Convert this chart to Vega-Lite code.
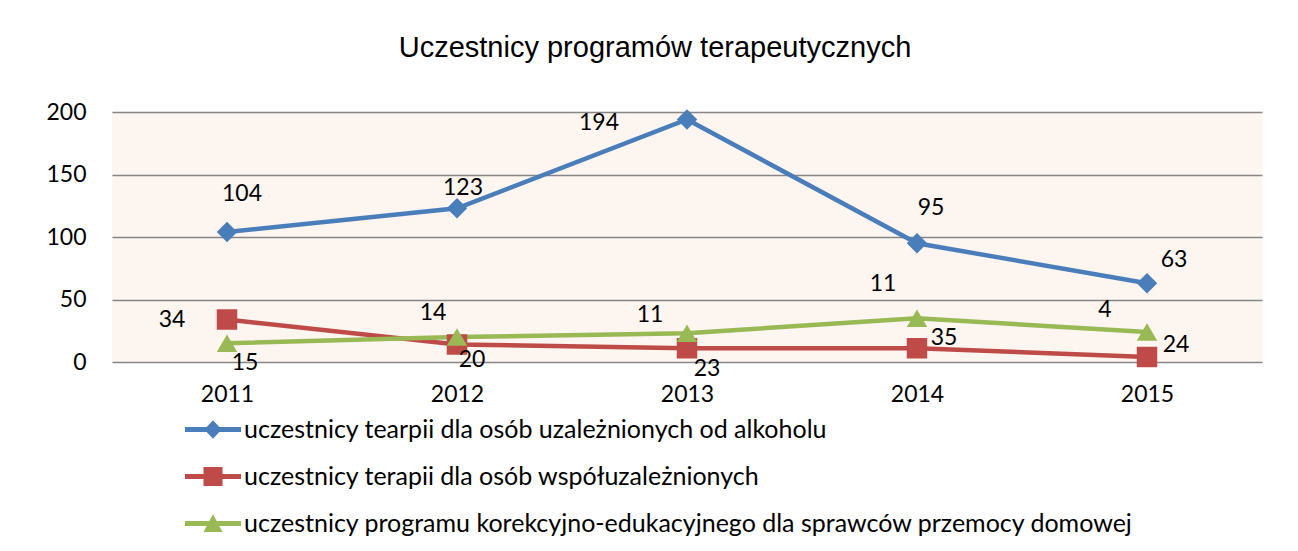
{
  "$schema": "https://vega.github.io/schema/vega-lite/v6.json",
  "width": 1150,
  "height": 250,
  "autosize": {"type": "none"},
  "padding": {"left": 112, "top": 112, "right": 36, "bottom": 189},
  "background": "white",
  "title": {
    "text": "Uczestnicy programów terapeutycznych",
    "font": "Liberation Sans",
    "fontSize": 29,
    "fontWeight": "normal",
    "color": "black",
    "anchor": "middle",
    "dx": -32,
    "offset": 38
  },
  "config": {
    "view": {"fill": "#FDF5F0", "stroke": null},
    "axis": {"labelFont": "Lato", "labelFontSize": 23, "labelColor": "black", "domain": false, "ticks": false, "title": null},
    "legend": {"labelFont": "Lato", "labelFontSize": 25, "labelColor": "black"}
  },
  "data": {
    "values": [
      {"year": "2011", "key": "a", "series": "uczestnicy tearpii dla osób uzależnionych od alkoholu", "value": 104},
      {"year": "2012", "key": "a", "series": "uczestnicy tearpii dla osób uzależnionych od alkoholu", "value": 123},
      {"year": "2013", "key": "a", "series": "uczestnicy tearpii dla osób uzależnionych od alkoholu", "value": 194},
      {"year": "2014", "key": "a", "series": "uczestnicy tearpii dla osób uzależnionych od alkoholu", "value": 95},
      {"year": "2015", "key": "a", "series": "uczestnicy tearpii dla osób uzależnionych od alkoholu", "value": 63},
      {"year": "2011", "key": "b", "series": "uczestnicy terapii dla osób współuzależnionych", "value": 34},
      {"year": "2012", "key": "b", "series": "uczestnicy terapii dla osób współuzależnionych", "value": 14},
      {"year": "2013", "key": "b", "series": "uczestnicy terapii dla osób współuzależnionych", "value": 11},
      {"year": "2014", "key": "b", "series": "uczestnicy terapii dla osób współuzależnionych", "value": 11},
      {"year": "2015", "key": "b", "series": "uczestnicy terapii dla osób współuzależnionych", "value": 4},
      {"year": "2011", "key": "c", "series": "uczestnicy programu korekcyjno-edukacyjnego dla sprawców przemocy domowej", "value": 15},
      {"year": "2012", "key": "c", "series": "uczestnicy programu korekcyjno-edukacyjnego dla sprawców przemocy domowej", "value": 20},
      {"year": "2013", "key": "c", "series": "uczestnicy programu korekcyjno-edukacyjnego dla sprawców przemocy domowej", "value": 23},
      {"year": "2014", "key": "c", "series": "uczestnicy programu korekcyjno-edukacyjnego dla sprawców przemocy domowej", "value": 35},
      {"year": "2015", "key": "c", "series": "uczestnicy programu korekcyjno-edukacyjnego dla sprawców przemocy domowej", "value": 24}
    ]
  },
  "encoding": {
    "x": {"field": "year", "type": "ordinal", "scale": {"type": "point", "padding": 0.5}, "axis": {"labelAngle": 0, "labelPadding": 21, "grid": false}},
    "y": {"field": "value", "type": "quantitative", "scale": {"domain": [0, 200], "nice": false}, "axis": {"values": [0, 50, 100, 150, 200], "grid": true, "gridColor": "#868686", "gridWidth": 1.5, "labelPadding": 26}}
  },
  "layer": [
    {
      "mark": {"type": "line", "strokeWidth": 4.5},
      "encoding": {
        "color": {"field": "series", "type": "nominal",
          "scale": {"domain": ["uczestnicy tearpii dla osób uzależnionych od alkoholu", "uczestnicy terapii dla osób współuzależnionych", "uczestnicy programu korekcyjno-edukacyjnego dla sprawców przemocy domowej"], "range": ["#4A7EBB", "#BE4B48", "#98B954"]},
          "legend": {
            "title": null, "orient": "none", "legendX": 73, "legendY": 294, "padding": 0,
            "symbolSize": 3136, "labelOffset": 3, "clipHeight": 47, "rowPadding": 0, "labelLimit": 1000,
            "encode": {"symbols": {"update": {"shape": {"signal": "datum.value === 'uczestnicy tearpii dla osób uzależnionych od alkoholu' ? 'M-1,-0.09H1V0.09H-1Z M0,-0.33L0.31,0L0,0.33L-0.31,0Z' : datum.value === 'uczestnicy terapii dla osób współuzależnionych' ? 'M-1,-0.09H1V0.09H-1Z M-0.34,-0.34H0.34V0.34H-0.34Z' : 'M-1,-0.09H1V0.09H-1Z M0,-0.33L0.34,0.3L-0.34,0.3Z'"}, "fill": {"signal": "scale('color', datum.value)"}, "strokeWidth": {"value": 0}, "opacity": {"value": 1}}}}
          }}
      }
    },
    {
      "mark": {"type": "point", "filled": true, "opacity": 1, "size": 420, "strokeWidth": 0},
      "encoding": {
        "color": {"field": "series", "type": "nominal",
          "scale": {"domain": ["uczestnicy tearpii dla osób uzależnionych od alkoholu", "uczestnicy terapii dla osób współuzależnionych", "uczestnicy programu korekcyjno-edukacyjnego dla sprawców przemocy domowej"], "range": ["#4A7EBB", "#BE4B48", "#98B954"]},
          "legend": {
            "title": null, "orient": "none", "legendX": 73, "legendY": 294, "padding": 0,
            "symbolSize": 3136, "labelOffset": 3, "clipHeight": 47, "rowPadding": 0, "labelLimit": 1000,
            "encode": {"symbols": {"update": {"shape": {"signal": "datum.value === 'uczestnicy tearpii dla osób uzależnionych od alkoholu' ? 'M-1,-0.09H1V0.09H-1Z M0,-0.33L0.31,0L0,0.33L-0.31,0Z' : datum.value === 'uczestnicy terapii dla osób współuzależnionych' ? 'M-1,-0.09H1V0.09H-1Z M-0.34,-0.34H0.34V0.34H-0.34Z' : 'M-1,-0.09H1V0.09H-1Z M0,-0.33L0.34,0.3L-0.34,0.3Z'"}, "fill": {"signal": "scale('color', datum.value)"}, "strokeWidth": {"value": 0}, "opacity": {"value": 1}}}}
          }},
        "shape": {"field": "key", "type": "nominal", "legend": null,
          "scale": {"domain": ["a", "b", "c"], "range": ["diamond", "square", "triangle-up"]}}
      }
    },
    {"transform": [{"filter": "datum.key=='a' && datum.year=='2011'"}], "mark": {"type": "text", "dx": 15, "dy": -38, "font": "Lato", "fontSize": 23}, "encoding": {"text": {"field": "value"}}},
    {"transform": [{"filter": "datum.key=='a' && datum.year=='2012'"}], "mark": {"type": "text", "dx": 6, "dy": -20, "font": "Lato", "fontSize": 23}, "encoding": {"text": {"field": "value"}}},
    {"transform": [{"filter": "datum.key=='a' && datum.year=='2013'"}], "mark": {"type": "text", "dx": -88, "dy": 3, "font": "Lato", "fontSize": 23}, "encoding": {"text": {"field": "value"}}},
    {"transform": [{"filter": "datum.key=='a' && datum.year=='2014'"}], "mark": {"type": "text", "dx": 14, "dy": -35, "font": "Lato", "fontSize": 23}, "encoding": {"text": {"field": "value"}}},
    {"transform": [{"filter": "datum.key=='a' && datum.year=='2015'"}], "mark": {"type": "text", "dx": 27, "dy": -23, "font": "Lato", "fontSize": 23}, "encoding": {"text": {"field": "value"}}},
    {"transform": [{"filter": "datum.key=='b' && datum.year=='2011'"}], "mark": {"type": "text", "dx": -55, "dy": 0, "font": "Lato", "fontSize": 23}, "encoding": {"text": {"field": "value"}}},
    {"transform": [{"filter": "datum.key=='b' && datum.year=='2012'"}], "mark": {"type": "text", "dx": -24, "dy": -32, "font": "Lato", "fontSize": 23}, "encoding": {"text": {"field": "value"}}},
    {"transform": [{"filter": "datum.key=='b' && datum.year=='2013'"}], "mark": {"type": "text", "dx": -37, "dy": -33, "font": "Lato", "fontSize": 23}, "encoding": {"text": {"field": "value"}}},
    {"transform": [{"filter": "datum.key=='b' && datum.year=='2014'"}], "mark": {"type": "text", "dx": -34, "dy": -64, "font": "Lato", "fontSize": 23}, "encoding": {"text": {"field": "value"}}},
    {"transform": [{"filter": "datum.key=='b' && datum.year=='2015'"}], "mark": {"type": "text", "dx": -42, "dy": -47, "font": "Lato", "fontSize": 23}, "encoding": {"text": {"field": "value"}}},
    {"transform": [{"filter": "datum.key=='c' && datum.year=='2011'"}], "mark": {"type": "text", "dx": 18, "dy": 20, "font": "Lato", "fontSize": 23}, "encoding": {"text": {"field": "value"}}},
    {"transform": [{"filter": "datum.key=='c' && datum.year=='2012'"}], "mark": {"type": "text", "dx": 15, "dy": 23, "font": "Lato", "fontSize": 23}, "encoding": {"text": {"field": "value"}}},
    {"transform": [{"filter": "datum.key=='c' && datum.year=='2013'"}], "mark": {"type": "text", "dx": 20, "dy": 36, "font": "Lato", "fontSize": 23}, "encoding": {"text": {"field": "value"}}},
    {"transform": [{"filter": "datum.key=='c' && datum.year=='2014'"}], "mark": {"type": "text", "dx": 27, "dy": 20, "font": "Lato", "fontSize": 23}, "encoding": {"text": {"field": "value"}}},
    {"transform": [{"filter": "datum.key=='c' && datum.year=='2015'"}], "mark": {"type": "text", "dx": 29, "dy": 13, "font": "Lato", "fontSize": 23}, "encoding": {"text": {"field": "value"}}}
  ]
}
